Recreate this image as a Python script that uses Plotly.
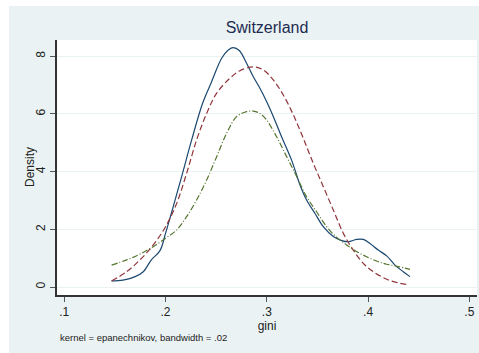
import plotly.graph_objects as go

# Kernel density (epanechnikov, bw=.02)
kd_x = [0.1467, 0.158, 0.170, 0.178, 0.186, 0.1945, 0.200, 0.2076, 0.2159, 0.2258, 0.2366, 0.2455,
        0.2554, 0.262, 0.2669, 0.2728, 0.280, 0.2867, 0.2932, 0.2998, 0.3064, 0.3146, 0.3245, 0.3328,
        0.3393, 0.3476, 0.3558, 0.3657, 0.374, 0.3805, 0.3887, 0.3953, 0.4019, 0.4101, 0.4184, 0.4266,
        0.4348, 0.4414]
kd_y = [0.21, 0.24, 0.36, 0.53, 0.94, 1.26, 1.86, 2.79, 3.83, 5.10, 6.37, 7.12,
        7.93, 8.22, 8.30, 8.20, 7.76, 7.29, 6.89, 6.43, 5.91, 5.21, 4.40, 3.54,
        3.02, 2.55, 2.09, 1.75, 1.61, 1.57, 1.65, 1.65, 1.51, 1.28, 1.08, 0.76,
        0.53, 0.36]

# Normal density
nd_x = [0.1467, 0.1616, 0.1747, 0.1879, 0.200, 0.211, 0.2208, 0.2307, 0.2406, 0.2505, 0.2636, 0.2735,
        0.2867, 0.2965, 0.3064, 0.3163, 0.3262, 0.336, 0.3459, 0.3558, 0.3657, 0.3756, 0.3854, 0.3953,
        0.4052, 0.4184, 0.4315, 0.4388]
nd_y = [0.21, 0.53, 0.94, 1.46, 2.09, 2.90, 3.94, 5.10, 6.02, 6.72, 7.24, 7.50,
        7.63, 7.53, 7.18, 6.66, 5.97, 5.16, 4.29, 3.48, 2.67, 1.86, 1.28, 0.82,
        0.53, 0.27, 0.13, 0.09]

# Third density (dash-dot)
td_x = [0.1467, 0.1616, 0.1747, 0.1879, 0.200, 0.211, 0.2208, 0.2307, 0.2406, 0.2505, 0.2603, 0.2702,
        0.2801, 0.2867, 0.2932, 0.2998, 0.3097, 0.3196, 0.3295, 0.3393, 0.3492, 0.3591, 0.369, 0.3789,
        0.3887, 0.3986, 0.4085, 0.4184, 0.4299, 0.4414]
td_y = [0.76, 0.94, 1.14, 1.40, 1.69, 1.98, 2.44, 3.02, 3.71, 4.52, 5.33, 5.91,
        6.08, 6.10, 6.02, 5.79, 5.21, 4.52, 3.83, 3.13, 2.61, 2.09, 1.72, 1.46,
        1.23, 1.05, 0.90, 0.79, 0.71, 0.61]

x_ticks = [0.1, 0.2, 0.3, 0.4, 0.5]
x_tick_labels = [".1", ".2", ".3", ".4", ".5"]
y_ticks = [0, 2, 4, 6, 8]
y_tick_labels = ["0", "2", "4", "6", "8"]

BG = "#eaf2f3"
FONT = "Liberation Sans, Arial, sans-serif"

fig = go.Figure()
fig.add_trace(go.Scatter(x=kd_x, y=kd_y, mode="lines", line=dict(color="#1a476f", width=1.2),
                         line_shape="spline", showlegend=False))
fig.add_trace(go.Scatter(x=nd_x, y=nd_y, mode="lines", line=dict(color="#90353b", width=1.2, dash="6px,3px"),
                         line_shape="spline", showlegend=False))
fig.add_trace(go.Scatter(x=td_x, y=td_y, mode="lines", line=dict(color="#55752f", width=1.2, dash="6px,2px,1px,2px"),
                         line_shape="spline", showlegend=False))

W, H = 479, 353
L, R, T, B = 57, 2, 40, 58
pw, ph = W - L - R, H - T - B

def px2paper_x(p):
    return (p - L) / pw

def py2paper_y(p):
    return (H - B - p) / ph

shapes = [
    dict(type="rect", xref="paper", yref="paper", layer="below", line=dict(width=0), fillcolor="white",
         x0=px2paper_x(-5), x1=px2paper_x(9), y0=py2paper_y(H + 5), y1=py2paper_y(-5)),
    dict(type="rect", xref="paper", yref="paper", layer="below", line=dict(width=0), fillcolor="white",
         x0=px2paper_x(-5), x1=px2paper_x(W + 5), y0=py2paper_y(6), y1=py2paper_y(-5)),
]

fig.update_layout(
    width=W, height=H,
    margin=dict(l=L, r=R, t=T, b=B),
    paper_bgcolor=BG, plot_bgcolor="white",
    font=dict(family=FONT, color="#222222", size=12),
    title=dict(text="Switzerland", x=px2paper_x(267), xref="paper", xanchor="center",
               y=1 - 27 / H, yanchor="middle", font=dict(size=16, color="#1e2b50", family=FONT)),
    shapes=shapes,
    annotations=[
        dict(text="kernel = epanechnikov, bandwidth = .02", xref="paper", yref="paper",
             x=px2paper_x(58), y=py2paper_y(337), xanchor="left", yanchor="middle",
             showarrow=False, font=dict(size=9.5, color="#222222", family=FONT)),
        dict(text="Density", xref="paper", yref="paper", textangle=-90,
             x=px2paper_x(30), y=py2paper_y(167), xanchor="center", yanchor="middle",
             showarrow=False, font=dict(size=12, color="#222222", family=FONT)),
    ],
    xaxis=dict(range=[0.0928, 0.5076], tickvals=x_ticks, ticktext=x_tick_labels,
               showgrid=False, zeroline=False, showline=True, linecolor="#333333", linewidth=1.5,
               ticks="outside", ticklen=5, tickcolor="#555555", tickwidth=1,
               tickfont=dict(size=12, color="#222222"),
               title=dict(text="gini", font=dict(size=12, color="#222222"), standoff=2)),
    yaxis=dict(range=[-0.277, 8.565], tickvals=y_ticks, ticktext=y_tick_labels, tickangle=-90,
               showgrid=True, gridcolor=BG, gridwidth=1, zeroline=False,
               showline=True, linecolor="#333333", linewidth=1.5,
               ticks="outside", ticklen=5, tickcolor="#555555", tickwidth=1,
               tickfont=dict(size=12, color="#222222")),
)

fig.write_html("out.html")
